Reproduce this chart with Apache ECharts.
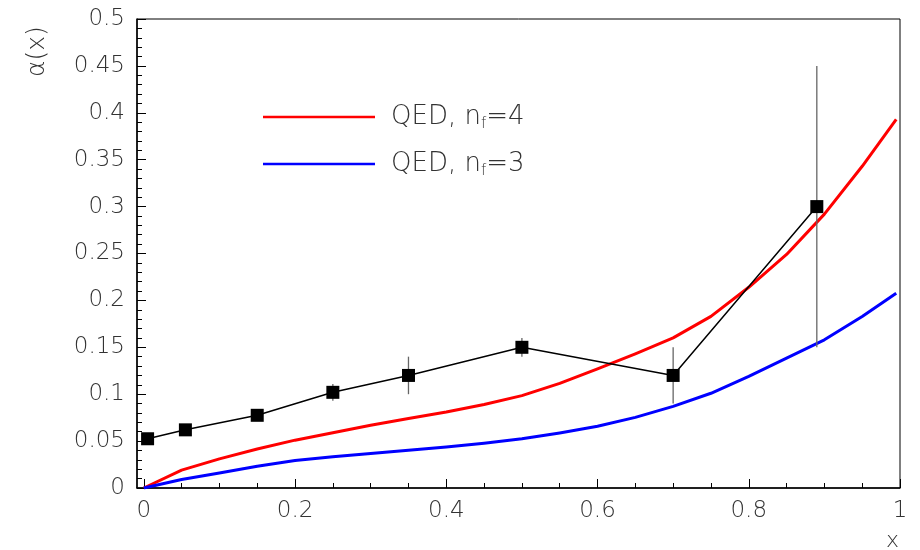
<!DOCTYPE html>
<html>
<head>
<meta charset="utf-8">
<script src="https://cdn.jsdelivr.net/npm/echarts@6/dist/echarts.min.js"></script>
<style>html,body{margin:0;padding:0;background:#fff;}#c{width:920px;height:550px;}</style>
</head>
<body>
<div id="c"></div>
<script>
// data points
const xData = [0.005, 0.055, 0.15, 0.25, 0.35, 0.5, 0.7, 0.89];
const yData = [0.0525, 0.062, 0.0775, 0.102, 0.12, 0.15, 0.12, 0.30];
const yErr  = [0, 0.002, 0.003, 0.009, 0.02, 0.01, 0.03, 0.15];
// curves
const curveX = [0, 0.05, 0.1, 0.15, 0.2, 0.25, 0.3, 0.35, 0.4, 0.45, 0.5, 0.55, 0.6, 0.65, 0.7, 0.75, 0.8, 0.85, 0.9, 0.95, 0.995];
const redY  = [0, 0.019, 0.031, 0.0415, 0.051, 0.059, 0.067, 0.074, 0.081, 0.089, 0.0985, 0.1115, 0.127, 0.143, 0.16, 0.183, 0.214, 0.249, 0.292, 0.343, 0.393];
const blueY = [0, 0.009, 0.016, 0.0232, 0.0293, 0.0332, 0.0367, 0.0402, 0.0437, 0.0477, 0.0525, 0.0587, 0.0658, 0.0753, 0.087, 0.101, 0.119, 0.1385, 0.158, 0.1828, 0.2077];
// ticks
const xMajorTicks = [0, 0.2, 0.4, 0.6, 0.8, 1];
const xMinorTicks = [0.05, 0.1, 0.15, 0.25, 0.3, 0.35, 0.45, 0.5, 0.55, 0.65, 0.7, 0.75, 0.85, 0.9, 0.95];
const seriesNames = ['QED, n_f=4', 'QED, n_f=3'];
const yTitle = 'α(x)';
const xTitle = 'x';

const FONT = '"DejaVu Sans", sans-serif';
const TXT = '#333';

const chart = echarts.init(document.getElementById('c'), null, {renderer: 'canvas'});
const zip = (xs, ys) => xs.map((x, i) => [x, ys[i]]);

chart.setOption({
  animation: false,
  backgroundColor: '#fff',
  grid: {left: 137, right: 20, top: 19, bottom: 62, show: true, borderColor: '#000', borderWidth: 1, backgroundColor: 'transparent'},
  legend: {
    orient: 'vertical', left: 258, top: 97, itemWidth: 112, itemHeight: 2.5, itemGap: 17,
    icon: 'rect', selectedMode: false,
    data: seriesNames,
    formatter: n => n.replace('n_f', 'n{sub|f}'),
    textStyle: {fontFamily: FONT, fontSize: 26, fontWeight: 200, color: TXT, lineHeight: 30, padding: [0, 0, 0, 11],
      rich: {sub: {fontFamily: FONT, fontSize: 15, fontWeight: 200, color: TXT, lineHeight: 14, verticalAlign: 'bottom'}}}
  },
  xAxis: [{
    type: 'value', min: -0.009, max: 1,
    axisLine: {show: true, onZero: false, lineStyle: {color: '#000', width: 1.5}},
    axisTick: {show: true, inside: true, length: 9, customValues: xMajorTicks, lineStyle: {color: '#000', width: 1}},
    axisLabel: {customValues: xMajorTicks, margin: 12, fontFamily: FONT, fontSize: 23, fontWeight: 200, color: TXT},
    splitLine: {show: false}
  }, {
    type: 'value', min: -0.009, max: 1, position: 'bottom',
    axisLine: {show: false},
    axisTick: {show: true, inside: true, length: 5, customValues: xMinorTicks, lineStyle: {color: '#000', width: 1}},
    axisLabel: {show: false},
    splitLine: {show: false}
  }],
  yAxis: {
    type: 'value', min: 0, max: 0.5, interval: 0.05,
    axisLine: {show: true, onZero: false, lineStyle: {color: '#000', width: 1.5}},
    axisTick: {show: true, inside: true, length: 9, lineStyle: {color: '#000', width: 1}},
    minorTick: {show: true, splitNumber: 5, length: 5, lineStyle: {color: '#000', width: 1}},
    axisLabel: {margin: 12, fontFamily: FONT, fontSize: 23, fontWeight: 200, color: TXT},
    splitLine: {show: false}
  },
  graphic: [
    {type: 'text', x: 37, y: 77, rotation: Math.PI / 2,
      style: {text: yTitle, fontFamily: FONT, fontSize: 25, fontWeight: 200, fill: TXT, align: 'left', verticalAlign: 'middle'}},
    {type: 'text', x: 892.5, y: 541,
      style: {text: xTitle, fontFamily: FONT, fontSize: 22, fontWeight: 200, fill: TXT, align: 'center', verticalAlign: 'middle'}}
  ],
  series: [
    {name: seriesNames[0], type: 'line', data: zip(curveX, redY), smooth: false, showSymbol: false, symbol: 'none',
      lineStyle: {color: '#ff0000', width: 3, join: 'round'}, itemStyle: {color: '#ff0000'}, z: 2},
    {name: seriesNames[1], type: 'line', data: zip(curveX, blueY), smooth: false, showSymbol: false, symbol: 'none',
      lineStyle: {color: '#0000ff', width: 3, join: 'round'}, itemStyle: {color: '#0000ff'}, z: 2},
    {type: 'custom', z: 3,
      data: xData.map((x, i) => [x, yData[i] - yErr[i], yData[i] + yErr[i]]),
      renderItem: (params, api) => {
        const p1 = api.coord([api.value(0), api.value(1)]);
        const p2 = api.coord([api.value(0), api.value(2)]);
        return {type: 'line', shape: {x1: p1[0], y1: p1[1], x2: p2[0], y2: p2[1]}, style: {stroke: '#666', lineWidth: 1.3}};
      }},
    {type: 'line', data: zip(xData, yData), symbol: 'rect', symbolSize: 13,
      lineStyle: {color: '#000', width: 1.5}, itemStyle: {color: '#000'}, z: 4}
  ]
});
</script>
</body>
</html>
